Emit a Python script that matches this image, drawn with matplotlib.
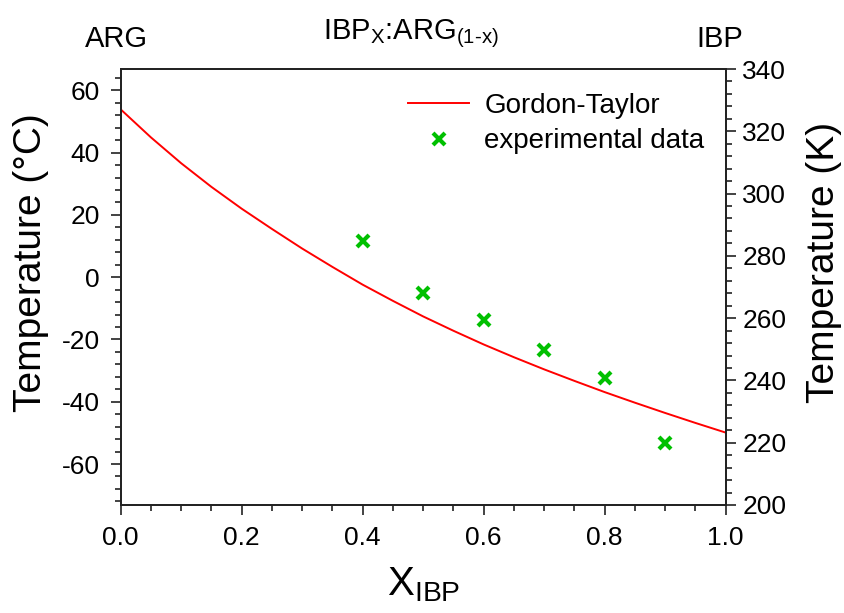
import matplotlib
matplotlib.use("Agg")
import matplotlib.pyplot as plt
from matplotlib.ticker import MultipleLocator

plt.rcParams['font.family'] = ['Liberation Sans', 'DejaVu Sans']
plt.rcParams['mathtext.fontset'] = 'custom'
plt.rcParams['mathtext.rm'] = 'Liberation Sans'
plt.rcParams['mathtext.it'] = 'Liberation Sans:italic'
plt.rcParams['axes.unicode_minus'] = False

# Gordon-Taylor curve
gt_x = [0.00, 0.05, 0.10, 0.15, 0.20, 0.25, 0.30, 0.35, 0.40, 0.45, 0.50,
        0.55, 0.60, 0.65, 0.70, 0.75, 0.80, 0.85, 0.90, 0.95, 1.00]
gt_T = [53.9, 44.9, 36.6, 29.0, 22.0, 15.5, 9.2, 3.3, -2.4, -7.6, -12.6,
        -17.2, -21.6, -25.7, -29.6, -33.3, -36.9, -40.3, -43.6, -46.8, -49.9]

# Experimental data
exp_x = [0.4, 0.5, 0.6, 0.7, 0.8, 0.9]
exp_T = [11.7, -5.2, -13.7, -23.4, -32.3, -53.3]

K_OFFSET = 273.15
yK_min, yK_max = 200, 340

fig = plt.figure(figsize=(8.45, 6.13), dpi=100)
ax = fig.add_axes([0.1428, 0.1762, 0.716, 0.7112])

ax.plot(gt_x, gt_T, color='#ff0000', lw=1.4, label='Gordon-Taylor')
ax.plot(exp_x, exp_T, linestyle='none', marker='x', color='#00c000',
        markersize=8, markeredgewidth=3, label='experimental data')

ax.set_xlim(0, 1)
ax.set_ylim(yK_min - K_OFFSET, yK_max - K_OFFSET)
ax.xaxis.set_minor_locator(MultipleLocator(0.05))
ax.yaxis.set_major_locator(MultipleLocator(20))
ax.yaxis.set_minor_locator(MultipleLocator(4))
ax.set_xticks([0, 0.2, 0.4, 0.6, 0.8, 1.0])
ax.set_xticklabels(['0.0', '0.2', '0.4', '0.6', '0.8', '1.0'])
ax.tick_params(which='both', direction='out', labelsize=19, width=1.2, color='#222222')
ax.tick_params(which='major', length=7, pad=8)
ax.tick_params(which='minor', length=4)
for s in ax.spines.values():
    s.set_linewidth(1.3)
    s.set_color('#222222')

ax.set_ylabel('Temperature (°C)', fontsize=28)
ax.yaxis.set_label_coords(-0.148, 0.557)
ax.yaxis.label.set_va('center')
ax.set_xlabel(r'$\mathrm{X_{IBP}}$', fontsize=29, labelpad=11)

ax2 = ax.twinx()
ax2.set_ylim(yK_min, yK_max)
ax2.yaxis.set_major_locator(MultipleLocator(20))
ax2.yaxis.set_minor_locator(MultipleLocator(4))
ax2.tick_params(which='both', direction='out', labelsize=19, width=1.2, color='#222222')
ax2.tick_params(which='major', length=7, pad=5)
ax2.tick_params(which='minor', length=4)
ax2.set_ylabel('Temperature (K)', fontsize=28)
ax2.yaxis.set_label_coords(1.162, 0.557)
ax2.yaxis.label.set_va('center')
for s in ax2.spines.values():
    s.set_linewidth(1.3)
    s.set_color('#222222')

leg = ax.legend(loc='center left', bbox_to_anchor=(408 / 845, 1 - 123.5 / 613),
                bbox_transform=fig.transFigure, frameon=False, borderpad=0,
                borderaxespad=0, fontsize=20, handlelength=2.2,
                handletextpad=0.55, labelspacing=0.35)

fig.text(0.101, 0.937, 'ARG', fontsize=21, ha='left', va='center')
fig.text(0.486, 0.945, r'IBP$_\mathrm{X}$:ARG$_\mathrm{(1\text{-}x)}$', fontsize=21, ha='center', va='center')
fig.text(0.824, 0.937, 'IBP', fontsize=21, ha='left', va='center')

fig.savefig('out.png', dpi=100)
